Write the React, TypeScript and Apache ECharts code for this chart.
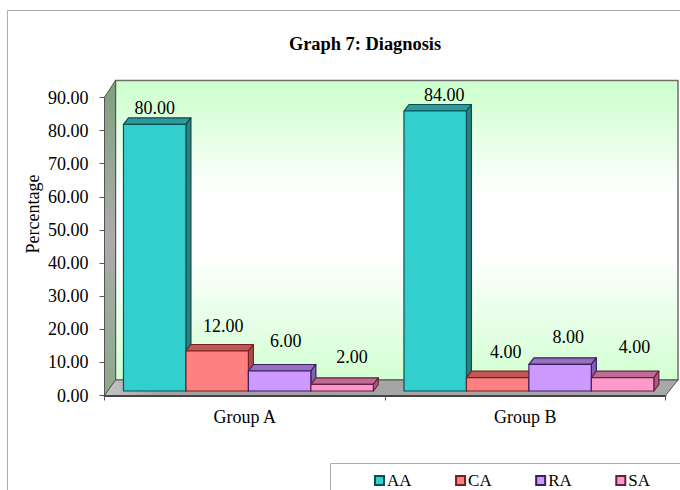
import React, { useEffect, useRef } from "react";
import * as echarts from "echarts";

const titleText = "Graph 7: Diagnosis";
const yAxisName = "Percentage";
const categories = ["Group A", "Group B"];
const seriesNames = ["AA", "CA", "RA", "SA"];
const aaValues = [80, 84];
const caValues = [12, 4];
const raValues = [6, 8];
const saValues = [2, 4];
const yMax = 90;
const yStep = 10;

const seriesValues = [aaValues, caValues, raValues, saValues];

// Face colours of each 3D column: front, top, side, outline
const palette = [
  { front: "#33CFCF", top: "#2E9A9E", side: "#2A7F80", line: "#0B4F50" },
  { front: "#FF8080", top: "#C05858", side: "#A85050", line: "#7A1F1F" },
  { front: "#CC99FF", top: "#9770BE", side: "#7F64A8", line: "#3A1F66" },
  { front: "#FF99CC", top: "#BE6C94", side: "#A85C84", line: "#66203F" },
];

// Hand-placed label nudges per series and group, relative to the column top
const labelShift = [
  [[0, -16], [9, -16]],
  [[6, -25], [8, -26]],
  [[6, -30], [8, -27]],
  [[10, -27], [12, -31]],
];

const FONT = '"Liberation Serif", "Times New Roman", serif';
const DEPTH_X = 5;
const DEPTH_Y = 6.5;
const BAR_SHARE = 0.2227;

function column3d(params: any, api: any) {
  const s = params.seriesIndex;
  const cat = api.value(0);
  const val = api.value(1);
  const c = palette[s];
  const band = api.size([1, 0])[0];
  const w = band * BAR_SHARE;
  const [cx, yTop] = api.coord([cat, val]);
  const [, yBase] = api.coord([cat, 0]);
  const x0 = cx + (s - 2) * w;
  const x1 = x0 + w;
  const stroke = { stroke: c.line, lineWidth: 1.2, lineJoin: "round" };
  const [nx, ny] = labelShift[s][cat];
  return {
    type: "group",
    children: [
      {
        type: "polygon",
        shape: { points: [[x0, yTop], [x0 + DEPTH_X, yTop - DEPTH_Y], [x1 + DEPTH_X, yTop - DEPTH_Y], [x1, yTop]] },
        style: { fill: c.top, ...stroke },
      },
      {
        type: "polygon",
        shape: { points: [[x1, yTop], [x1 + DEPTH_X, yTop - DEPTH_Y], [x1 + DEPTH_X, yBase - DEPTH_Y], [x1, yBase]] },
        style: { fill: c.side, ...stroke },
      },
      {
        type: "rect",
        shape: { x: x0, y: yTop, width: w, height: yBase - yTop },
        style: { fill: c.front, ...stroke },
      },
      {
        type: "text",
        z2: 50,
        x: x0 + w / 2 + nx,
        y: yTop + ny,
        style: {
          text: val.toFixed(2),
          font: `18px ${FONT}`,
          fill: "#000",
          align: "center",
          verticalAlign: "middle",
        },
      },
    ],
  };
}

export default function App() {
  const ref = useRef<HTMLDivElement>(null);

  useEffect(() => {
    const chart = echarts.init(ref.current!, undefined, { renderer: "svg" });
    chart.setOption({
      animation: false,
      backgroundColor: "#ffffff",
      title: {
        text: titleText,
        left: 360,
        top: 30,
        textAlign: "center",
        textStyle: { fontFamily: FONT, fontSize: 18.4, fontWeight: "bold", color: "#000" },
      },
      // Visible axes, and the slightly inset plane the columns stand on
      grid: [
        { left: 104.5, right: 14.5, top: 97.5, bottom: 94.5 },
        { left: 108.15, right: 10.85, top: 91, bottom: 99 },
      ],
      xAxis: [
        {
          type: "category",
          gridIndex: 0,
          data: categories,
          axisTick: { show: true, alignWithLabel: false, length: 5, lineStyle: { color: "#555" } },
          axisLine: { lineStyle: { color: "#444", width: 2 } },
          axisLabel: { fontFamily: FONT, fontSize: 18, color: "#000", margin: 12 },
        },
        { type: "category", gridIndex: 1, data: categories, show: false },
      ],
      yAxis: [
        {
          type: "value",
          gridIndex: 0,
          min: 0,
          max: yMax,
          interval: yStep,
          axisLine: { show: true, lineStyle: { color: "#555" } },
          axisTick: { show: true, length: 5, lineStyle: { color: "#555" } },
          splitLine: { show: false },
          axisLabel: {
            fontFamily: FONT,
            fontSize: 18,
            color: "#000",
            margin: 16,
            formatter: (v: number) => v.toFixed(2),
          },
        },
        { type: "value", gridIndex: 1, min: 0, max: yMax, interval: yStep, show: false },
      ],
      legend: {
        data: seriesNames,
        left: 369,
        top: 467,
        icon: "rect",
        itemWidth: 9,
        itemHeight: 9,
        itemGap: 43.5,
        textStyle: { fontFamily: FONT, fontSize: 17, color: "#000", padding: [0, 0, 0, -2] },
      },
      graphic: [
        // Outer chart frame, cut off by the page on the right and bottom
        { type: "line", z: -5, shape: { x1: 7.5, y1: 10.5, x2: 680, y2: 10.5 }, style: { stroke: "#ABABAB", lineWidth: 1 } },
        { type: "line", z: -5, shape: { x1: 7.5, y1: 10.5, x2: 7.5, y2: 490 }, style: { stroke: "#ABABAB", lineWidth: 1 } },
        // Value axis title
        {
          type: "text",
          x: 33,
          y: 214,
          rotation: Math.PI / 2,
          style: {
            text: yAxisName,
            font: `18px ${FONT}`,
            fill: "#000",
            align: "center",
            verticalAlign: "middle",
          },
        },
        // Back wall
        {
          type: "rect",
          z: -4,
          shape: { x: 115.5, y: 80.5, width: 562.5, height: 299.5 },
          style: {
            stroke: "#6E6E6E",
            lineWidth: 1.5,
            fill: new echarts.graphic.LinearGradient(0, 0, 0, 1, [
              { offset: 0, color: "#CCFFCC" },
              { offset: 0.38, color: "#FFFFFF" },
              { offset: 0.58, color: "#FFFFFF" },
              { offset: 1, color: "#D2FFD2" },
            ]),
          },
        },
        // Side wall
        {
          type: "polygon",
          z: -3,
          shape: { points: [[104.5, 97], [115.5, 80.5], [115.5, 380], [104.5, 395.5]] },
          style: {
            stroke: "#555",
            lineWidth: 1,
            fill: new echarts.graphic.LinearGradient(0, 0, 0, 1, [
              { offset: 0, color: "#7F9F7F" },
              { offset: 0.5, color: "#ACACAC" },
              { offset: 1, color: "#8CA88C" },
            ]),
          },
        },
        // Floor
        {
          type: "polygon",
          z: -3,
          shape: { points: [[104.5, 395.5], [115.5, 380], [678, 380], [665.5, 395.5]] },
          style: {
            stroke: "#555",
            lineWidth: 1,
            fill: new echarts.graphic.LinearGradient(0, 0, 1, 0, [
              { offset: 0, color: "#C4C4C4" },
              { offset: 0.1, color: "#A2A2A2" },
              { offset: 1, color: "#A8A8A8" },
            ]),
          },
        },
        // Legend box
        {
          type: "rect",
          z: -5,
          shape: { x: 330.5, y: 463.5, width: 400, height: 60 },
          style: { fill: "#fff", stroke: "#ABABAB", lineWidth: 1 },
        },
      ],
      series: seriesNames.map((name, s) => ({
        name,
        type: "custom",
        xAxisIndex: 1,
        yAxisIndex: 1,
        clip: false,
        renderItem: column3d,
        encode: { x: 0, y: 1 },
        itemStyle: { color: palette[s].front, borderColor: palette[s].line, borderWidth: 1 },
        data: seriesValues[s].map((v, i) => [i, v]),
      })),
    });
    return () => chart.dispose();
  }, []);

  return <div ref={ref} style={{ position: "fixed", left: 0, top: 0, width: 680, height: 490 }} />;
}
